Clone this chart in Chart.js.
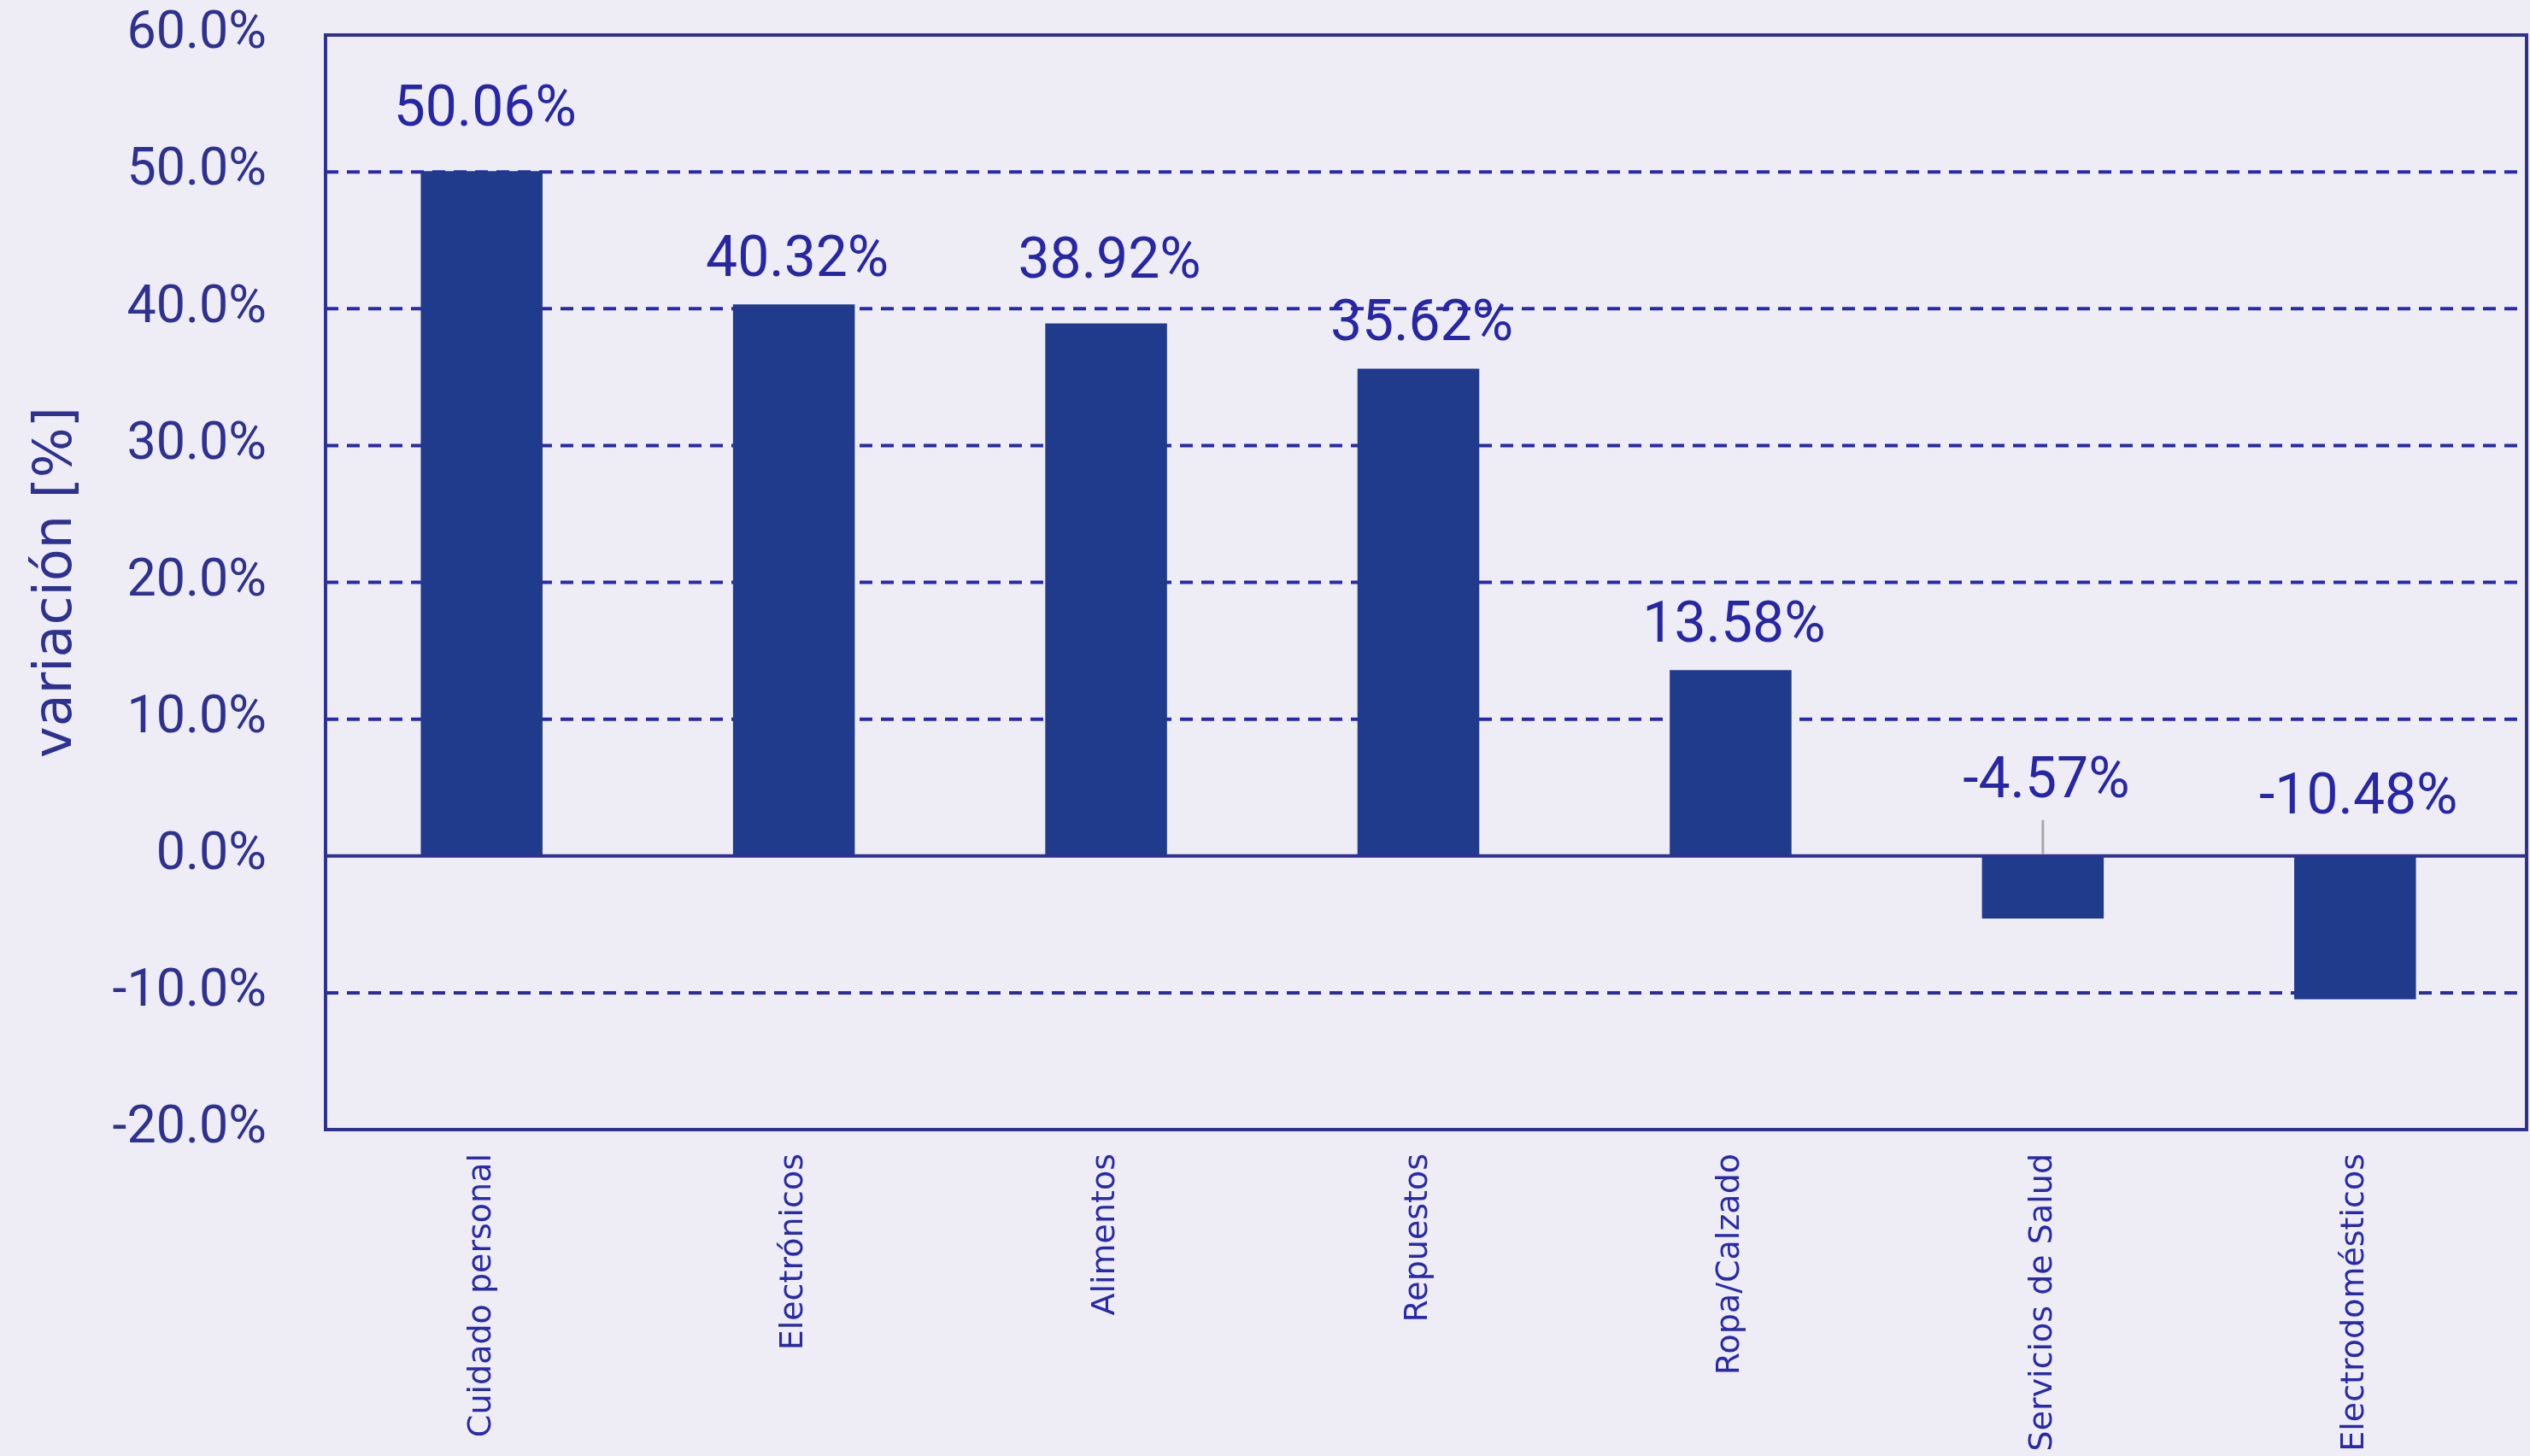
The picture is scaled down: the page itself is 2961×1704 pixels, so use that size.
<!DOCTYPE html>
<html>
<head>
<meta charset="utf-8">
<script src="https://cdn.jsdelivr.net/npm/chart.js@4.4.1/dist/chart.umd.min.js"></script>
<style>
html, body { margin: 0; padding: 0; background: #eeedf6; }
canvas { display: block; }
</style>
</head>
<body>
<canvas id="chart" width="2961" height="1704"></canvas>
<script>
var categories = ['Cuidado personal', 'Electrónicos', 'Alimentos', 'Repuestos', 'Ropa/Calzado', 'Servicios de Salud', 'Electrodomésticos'];
var variation = [50.06, 40.32, 38.92, 35.62, 13.58, -4.57, -10.48];
var yMin = -20;
var yMax = 60;
var yStep = 10;

// how far each value label sits above its bar top (or above zero for negatives)
var labelLift = [70, 50, 70, 50, 50, 85, 66];
// the frame reaches a bit past the last category
var frameExtra = 18;

var frameColor = '#2e3190';
var gridColor = '#2a2aa8';
var labelColor = '#2727a6';

var framePlugin = {
    id: 'frame',
    beforeDatasetsDraw: function (chart) {
        var ctx = chart.ctx;
        var area = chart.chartArea;
        var y = chart.scales.y;
        ctx.save();
        ctx.strokeStyle = gridColor;
        ctx.lineWidth = 4;
        ctx.setLineDash([15, 10]);
        y.ticks.forEach(function (t) {
            if (t.value === 0 || t.value === yMin || t.value === yMax) return;
            var py = y.getPixelForValue(t.value);
            ctx.beginPath();
            ctx.moveTo(area.left, py);
            ctx.lineTo(area.right + frameExtra, py);
            ctx.stroke();
        });
        ctx.restore();
    },
    afterDatasetsDraw: function (chart) {
        var ctx = chart.ctx;
        var area = chart.chartArea;
        var y = chart.scales.y;
        var meta = chart.getDatasetMeta(0);
        var zeroY = y.getPixelForValue(0);
        var right = area.right + frameExtra;

        ctx.save();
        // zero line
        ctx.strokeStyle = frameColor;
        ctx.lineWidth = 4;
        ctx.beginPath();
        ctx.moveTo(area.left, zeroY);
        ctx.lineTo(right, zeroY);
        ctx.stroke();
        // frame
        ctx.strokeRect(area.left, area.top, right - area.left, area.bottom - area.top);

        // value labels
        ctx.font = '66px Roboto';
        ctx.fillStyle = labelColor;
        ctx.textAlign = 'center';
        ctx.textBaseline = 'middle';
        meta.data.forEach(function (bar, i) {
            var v = variation[i];
            var base = v >= 0 ? bar.y : zeroY;
            ctx.fillText(v.toFixed(2) + '%', bar.x + 4, base - labelLift[i]);
            if (i === 5) {
                ctx.strokeStyle = '#a8a8a8';
                ctx.lineWidth = 3;
                ctx.beginPath();
                ctx.moveTo(bar.x, zeroY - 2);
                ctx.lineTo(bar.x, zeroY - 42);
                ctx.stroke();
            }
        });
        ctx.restore();
    }
};

new Chart(document.getElementById('chart'), {
    type: 'bar',
    data: {
        labels: categories,
        datasets: [{
            data: variation,
            backgroundColor: '#203b8c',
            borderWidth: 0,
            categoryPercentage: 1,
            barPercentage: 0.39,
        }],
    },
    options: {
        responsive: false,
        animation: false,
        devicePixelRatio: 1,
        layout: { padding: { top: 41, right: 4 + frameExtra, bottom: 0, left: 0 } },
        plugins: {
            legend: { display: false },
            tooltip: { enabled: false },
        },
        scales: {
            x: {
                grid: { display: false, drawTicks: false },
                border: { display: false },
                ticks: {
                    minRotation: 90,
                    maxRotation: 90,
                    padding: 28,
                    color: '#2a2aa8',
                    font: { family: 'DejaVu Sans', size: 38 },
                },
                afterFit: function (scale) {
                    scale.height = 382;
                    scale.paddingLeft = 0;
                    scale.paddingRight = 0;
                },
            },
            y: {
                min: yMin,
                max: yMax,
                grid: { display: false, drawTicks: false },
                border: { display: false },
                ticks: {
                    stepSize: yStep,
                    padding: 69,
                    color: frameColor,
                    font: { family: 'Roboto', size: 61 },
                    callback: function (v) { return v.toFixed(1) + '%'; },
                },
                title: {
                    display: true,
                    text: 'variación [%]',
                    color: frameColor,
                    font: { family: 'DejaVu Sans', size: 62 },
                    padding: { top: 30, bottom: 0 },
                },
                afterFit: function (scale) {
                    scale.width = 381;
                    scale.paddingTop = 0;
                    scale.paddingBottom = 0;
                },
            },
        },
    },
    plugins: [framePlugin],
});
</script>
</body>
</html>
